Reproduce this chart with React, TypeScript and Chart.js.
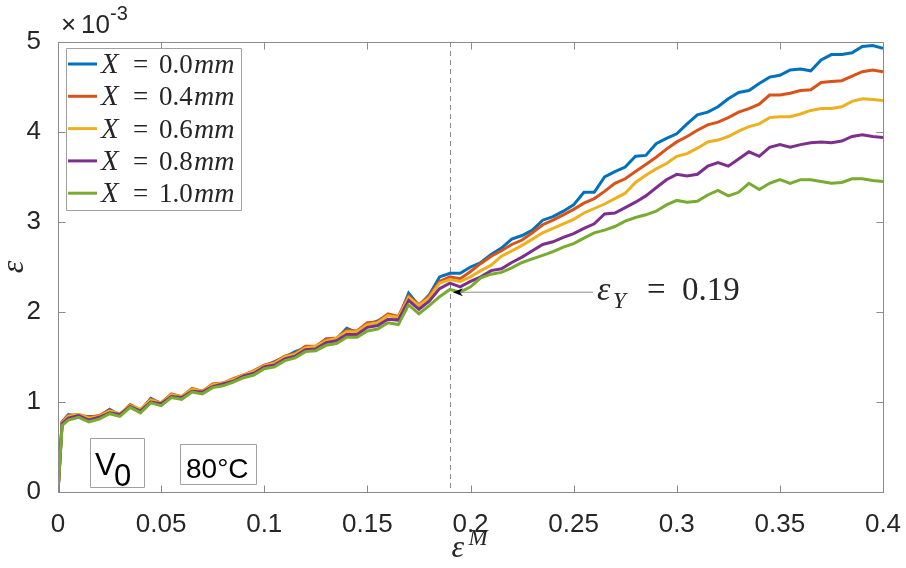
import React, { useEffect, useRef } from "react";
import { Chart, registerables } from "chart.js";

Chart.register(...registerables);

// ---------- data ----------
const strainM = [
  0, 0.002, 0.005, 0.01, 0.015, 0.02, 0.025, 0.03, 0.035, 0.04,
  0.045, 0.05, 0.055, 0.06, 0.065, 0.07, 0.075, 0.08, 0.085, 0.09,
  0.095, 0.1, 0.105, 0.11, 0.115, 0.12, 0.125, 0.13, 0.135, 0.14,
  0.145, 0.15, 0.155, 0.16, 0.165, 0.17, 0.175, 0.18, 0.185, 0.19,
  0.195, 0.2, 0.205, 0.21, 0.215, 0.22, 0.225, 0.23, 0.235, 0.24,
  0.245, 0.25, 0.255, 0.26, 0.265, 0.27, 0.275, 0.28, 0.285, 0.29,
  0.295, 0.3, 0.305, 0.31, 0.315, 0.32, 0.325, 0.33, 0.335, 0.34,
  0.345, 0.35, 0.355, 0.36, 0.365, 0.37, 0.375, 0.38, 0.385, 0.39,
  0.395, 0.4,
];

// values in units of 1e-3
const x00 = [
  0, 0.78, 0.86, 0.84, 0.84, 0.84, 0.92, 0.85, 0.96, 0.90,
  1.04, 0.98, 1.08, 1.05, 1.14, 1.10, 1.19, 1.20, 1.25, 1.29,
  1.33, 1.40, 1.45, 1.50, 1.56, 1.60, 1.61, 1.70, 1.70, 1.82,
  1.77, 1.86, 1.90, 1.97, 1.93, 2.21, 2.07, 2.19, 2.39, 2.43,
  2.43, 2.50, 2.55, 2.64, 2.71, 2.81, 2.85, 2.91, 3.02, 3.06,
  3.12, 3.19, 3.33, 3.33, 3.50, 3.56, 3.61, 3.73, 3.74, 3.87,
  3.93, 3.98, 4.09, 4.19, 4.22, 4.28, 4.37, 4.44, 4.46, 4.54,
  4.61, 4.63, 4.69, 4.70, 4.68, 4.80, 4.86, 4.86, 4.88, 4.95,
  4.96, 4.93,
];
const x04 = [
  0, 0.78, 0.85, 0.86, 0.83, 0.85, 0.91, 0.86, 0.97, 0.91,
  1.03, 0.99, 1.09, 1.06, 1.15, 1.12, 1.20, 1.21, 1.26, 1.30,
  1.35, 1.41, 1.44, 1.51, 1.54, 1.62, 1.62, 1.70, 1.71, 1.80,
  1.79, 1.88, 1.89, 1.98, 1.95, 2.18, 2.08, 2.18, 2.34, 2.39,
  2.37, 2.45, 2.54, 2.62, 2.68, 2.75, 2.80, 2.88, 2.97, 3.02,
  3.08, 3.14, 3.21, 3.26, 3.34, 3.43, 3.48, 3.56, 3.64, 3.72,
  3.81, 3.89, 3.95, 4.02, 4.08, 4.11, 4.16, 4.22, 4.26, 4.31,
  4.41, 4.41, 4.43, 4.46, 4.47, 4.55, 4.56, 4.57, 4.62, 4.67,
  4.69, 4.67,
];
const x06 = [
  0, 0.77, 0.84, 0.86, 0.82, 0.84, 0.90, 0.87, 0.96, 0.92,
  1.02, 0.99, 1.08, 1.06, 1.14, 1.12, 1.19, 1.21, 1.25, 1.30,
  1.34, 1.40, 1.43, 1.50, 1.53, 1.60, 1.62, 1.68, 1.71, 1.78,
  1.78, 1.86, 1.88, 1.96, 1.94, 2.16, 2.07, 2.16, 2.32, 2.36,
  2.34, 2.39, 2.46, 2.52, 2.62, 2.68, 2.74, 2.81, 2.88, 2.93,
  2.98, 3.03, 3.10, 3.15, 3.20, 3.26, 3.32, 3.44, 3.52, 3.59,
  3.65, 3.73, 3.76, 3.82, 3.89, 3.91, 3.95, 4.01, 4.06, 4.09,
  4.16, 4.17, 4.17, 4.20, 4.24, 4.26, 4.26, 4.28, 4.34, 4.37,
  4.36, 4.35,
];
const x08 = [
  0, 0.76, 0.82, 0.85, 0.80, 0.83, 0.88, 0.86, 0.95, 0.90,
  1.00, 0.98, 1.06, 1.05, 1.12, 1.11, 1.17, 1.20, 1.23, 1.29,
  1.32, 1.39, 1.41, 1.48, 1.51, 1.58, 1.59, 1.66, 1.68, 1.75,
  1.75, 1.83, 1.85, 1.92, 1.91, 2.13, 2.03, 2.12, 2.26, 2.32,
  2.28, 2.34, 2.39, 2.46, 2.48, 2.55, 2.61, 2.68, 2.75, 2.78,
  2.83, 2.87, 2.93, 2.98, 3.09, 3.10, 3.16, 3.22, 3.29, 3.38,
  3.47, 3.53, 3.51, 3.53, 3.62, 3.66, 3.62, 3.70, 3.78, 3.73,
  3.83, 3.86, 3.83, 3.86, 3.88, 3.89, 3.88, 3.90, 3.95, 3.97,
  3.95, 3.94,
];
const x10 = [
  0, 0.74, 0.80, 0.83, 0.78, 0.81, 0.87, 0.84, 0.94, 0.88,
  0.99, 0.96, 1.05, 1.03, 1.11, 1.09, 1.16, 1.18, 1.22, 1.27,
  1.30, 1.37, 1.39, 1.46, 1.49, 1.56, 1.57, 1.63, 1.65, 1.72,
  1.72, 1.79, 1.81, 1.88, 1.86, 2.08, 1.98, 2.07, 2.17, 2.25,
  2.22, 2.28, 2.38, 2.42, 2.44, 2.49, 2.55, 2.59, 2.63, 2.67,
  2.72, 2.76, 2.82, 2.88, 2.91, 2.95, 3.01, 3.05, 3.08, 3.12,
  3.19, 3.24, 3.22, 3.23, 3.30, 3.35, 3.29, 3.33, 3.43, 3.36,
  3.43, 3.47, 3.43, 3.47, 3.47, 3.45, 3.43, 3.44, 3.48, 3.48,
  3.46, 3.45,
];

const seriesValues = [x00, x04, x06, x08, x10];
const seriesLabels = ["0.0", "0.4", "0.6", "0.8", "1.0"];
const seriesColors = ["#0072BD", "#D95319", "#EDB120", "#7E2F8E", "#77AC30"];

const xTicks = [0, 0.05, 0.1, 0.15, 0.2, 0.25, 0.3, 0.35, 0.4];
const yTicks = [0, 1, 2, 3, 4, 5];

const yieldStrain = 0.19;
const yieldPointValue = 2.22;
const yieldLabel = "0.19";

// ---------- styling ----------
const TEXT = "#262626";
const AXIS = "#8a8a8a";
const SANS = '"Liberation Sans", Arial, sans-serif';
const SERIF = '"Liberation Serif", "Times New Roman", serif';

const overlay = {
  id: "overlay",
  beforeDatasetsDraw(chart: any) {
    const { ctx, chartArea: a, scales } = chart;
    const xs = scales.x;
    ctx.save();
    const px = Math.round(xs.getPixelForValue(yieldStrain)) + 0.5;
    ctx.strokeStyle = "#8c8c8c";
    ctx.lineWidth = 1;
    ctx.setLineDash([5, 4]);
    ctx.beginPath();
    ctx.moveTo(px, a.top);
    ctx.lineTo(px, a.bottom);
    ctx.stroke();
    ctx.restore();
  },
  afterDatasetsDraw(chart: any) {
    const { ctx, chartArea: a, scales } = chart;
    const xs = scales.x;
    const ys = scales.y;
    ctx.save();

    // axes box
    ctx.strokeStyle = AXIS;
    ctx.lineWidth = 1;
    ctx.setLineDash([]);
    const L = Math.round(a.left) + 0.5;
    const R = Math.round(a.right) + 0.5;
    const T = Math.round(a.top) + 0.5;
    const B = Math.round(a.bottom) + 0.5;
    ctx.beginPath();
    ctx.rect(L, T, R - L, B - T);
    ctx.stroke();

    // inward ticks
    const tl = 7;
    ctx.beginPath();
    xTicks.forEach((v) => {
      const p = Math.round(xs.getPixelForValue(v)) + 0.5;
      ctx.moveTo(p, B);
      ctx.lineTo(p, B - tl);
      ctx.moveTo(p, T);
      ctx.lineTo(p, T + tl);
    });
    yTicks.forEach((v) => {
      const p = Math.round(ys.getPixelForValue(v)) + 0.5;
      ctx.moveTo(L, p);
      ctx.lineTo(L + tl, p);
      ctx.moveTo(R, p);
      ctx.lineTo(R - tl, p);
    });
    ctx.stroke();

    // annotation arrow
    const tipX = xs.getPixelForValue(yieldStrain) + 3;
    const tipY = ys.getPixelForValue(yieldPointValue);
    ctx.strokeStyle = "#8c8c8c";
    ctx.beginPath();
    ctx.moveTo(593, tipY);
    ctx.lineTo(tipX + 6, tipY);
    ctx.stroke();
    ctx.fillStyle = "#000";
    ctx.beginPath();
    ctx.moveTo(tipX, tipY);
    ctx.lineTo(tipX + 10, tipY - 4);
    ctx.lineTo(tipX + 7, tipY);
    ctx.lineTo(tipX + 10, tipY + 4);
    ctx.closePath();
    ctx.fill();

    ctx.fillStyle = TEXT;
    ctx.textAlign = "left";
    ctx.textBaseline = "alphabetic";
    ctx.font = `italic 34px ${SERIF}`;
    ctx.fillText("ε", 597, 300);
    ctx.font = `italic 23px ${SERIF}`;
    ctx.fillText("Y", 613, 308);
    ctx.font = `33px ${SERIF}`;
    ctx.fillText("=", 647, 300);
    ctx.fillText(yieldLabel, 682, 300);

    // legend
    ctx.fillStyle = "#fff";
    ctx.strokeStyle = "#a0a0a0";
    ctx.beginPath();
    ctx.rect(66.5, 48.5, 175, 162);
    ctx.fill();
    ctx.stroke();
    seriesLabels.forEach((lab, i) => {
      const ly = 64 + i * 32.3;
      ctx.strokeStyle = seriesColors[i];
      ctx.lineWidth = 3;
      ctx.beginPath();
      ctx.moveTo(68, ly);
      ctx.lineTo(97, ly);
      ctx.stroke();
      ctx.fillStyle = TEXT;
      ctx.font = `italic 29px ${SERIF}`;
      ctx.fillText("X", 101, ly + 9);
      ctx.font = `27px ${SERIF}`;
      ctx.fillText("=", 133, ly + 9);
      ctx.fillText(lab, 159, ly + 9);
      ctx.font = `italic 28px ${SERIF}`;
      ctx.fillText("mm", 194, ly + 9);
    });

    // text boxes
    ctx.lineWidth = 1;
    ctx.strokeStyle = "#a0a0a0";
    ctx.fillStyle = "#fff";
    ctx.beginPath();
    ctx.rect(90.5, 438.5, 54, 49);
    ctx.fill();
    ctx.stroke();
    ctx.beginPath();
    ctx.rect(180.5, 444.5, 76, 40);
    ctx.fill();
    ctx.stroke();
    ctx.fillStyle = "#000";
    ctx.font = `31px ${SANS}`;
    ctx.fillText("V", 95, 475);
    ctx.fillText("0", 114, 486);
    ctx.font = `28px ${SANS}`;
    ctx.fillText("80°C", 186, 478);

    // multiplier
    ctx.fillStyle = TEXT;
    ctx.font = `26px ${SANS}`;
    ctx.fillText("×", 61, 33);
    ctx.fillText("10", 81, 33);
    ctx.font = `20px ${SANS}`;
    ctx.fillText("-3", 110, 20);

    // x title
    const cx = (a.left + a.right) / 2;
    ctx.font = `italic 32px ${SERIF}`;
    ctx.fillText("ε", cx - 19, 557);
    ctx.font = `italic 23px ${SERIF}`;
    ctx.fillText("M", cx - 2, 545);

    // y title (rotated, partly off-canvas)
    ctx.save();
    ctx.translate(23, (a.top + a.bottom) / 2);
    ctx.rotate(-Math.PI / 2);
    ctx.font = `italic 32px ${SERIF}`;
    ctx.textAlign = "center";
    ctx.fillText("ε", 0, 0);
    ctx.restore();

    ctx.restore();
  },
};

export default function App() {
  const ref = useRef<HTMLCanvasElement | null>(null);
  useEffect(() => {
    if (!ref.current) return;
    const datasets = seriesValues.map((vals, i) => ({
      label: `X = ${seriesLabels[i]}mm`,
      data: strainM.map((x, j) => ({ x, y: vals[j] })),
      borderColor: seriesColors[i],
      backgroundColor: seriesColors[i],
      borderWidth: 3,
      pointRadius: 0,
      tension: 0,
      order: seriesValues.length - i,
    }));
    const chart = new Chart(ref.current, {
      type: "line",
      data: { datasets },
      options: {
        responsive: false,
        animation: false,
        devicePixelRatio: 1,
        layout: { padding: { left: 0, top: 42, right: 23, bottom: 0 } },
        plugins: { legend: { display: false }, tooltip: { enabled: false } },
        scales: {
          x: {
            type: "linear",
            min: 0,
            max: 0.4,
            afterFit: (s: any) => {
              s.height = 76;
              s.paddingLeft = 0;
              s.paddingRight = 0;
            },
            afterBuildTicks: (s: any) => {
              s.ticks = xTicks.map((v) => ({ value: v }));
            },
            ticks: {
              autoSkip: false,
              maxRotation: 0,
              padding: 9,
              color: TEXT,
              font: { family: SANS, size: 26 },
              callback: (v: any) => String(Number(Number(v).toFixed(2))),
            },
            grid: { display: false },
            border: { display: false },
          },
          y: {
            type: "linear",
            min: 0,
            max: 5,
            afterFit: (s: any) => {
              s.width = 58;
              s.paddingTop = 0;
              s.paddingBottom = 0;
            },
            afterBuildTicks: (s: any) => {
              s.ticks = yTicks.map((v) => ({ value: v }));
            },
            ticks: {
              padding: 9,
              color: TEXT,
              font: { family: SANS, size: 26 },
              callback: (v: any) => String(v),
            },
            grid: { display: false },
            border: { display: false },
          },
        },
      },
      plugins: [overlay],
    });
    return () => chart.destroy();
  }, []);
  return (
    <div
      style={{
        position: "fixed",
        left: 0,
        top: 0,
        width: 906,
        height: 568,
        background: "#fff",
      }}
    >
      <canvas ref={ref} width={906} height={568} style={{ display: "block" }} />
    </div>
  );
}
